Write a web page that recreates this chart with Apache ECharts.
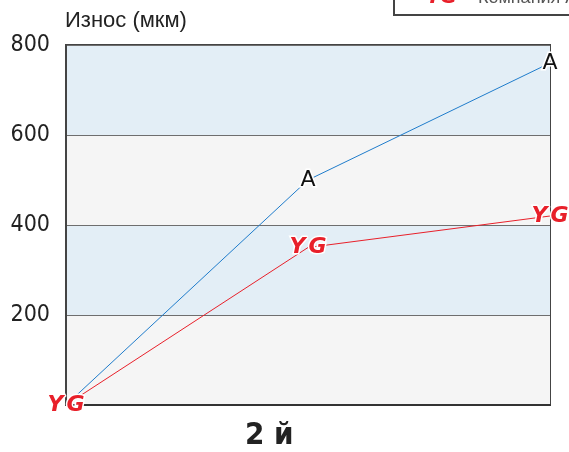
<!DOCTYPE html>
<html>
<head>
<meta charset="utf-8">
<script src="https://cdn.jsdelivr.net/npm/echarts@6/dist/echarts.min.js"></script>
<style>
  html, body { margin: 0; padding: 0; background: #fff; }
  #chart { width: 569px; height: 452px; }
</style>
</head>
<body>
<div id="chart"></div>
<script>
// Wear measurements at three inspection points
const steps = ['0', '1', '2'];
const wearA = [0, 500, 760];
const wearYG = [0, 350, 420];
const yTicks = [0, 200, 400, 600, 800];

const BLUE = '#1f7ccb';
const RED = '#e8202a';
const CONDENSED = '"DejaVu Sans Condensed", "Liberation Sans Narrow", "DejaVu Sans", sans-serif';

const chart = echarts.init(document.getElementById('chart'));

chart.setOption({
  animation: false,
  grid: {
    left: 66, right: 19, top: 45, bottom: 47,
    show: true, borderColor: '#444', borderWidth: 2, backgroundColor: 'transparent'
  },
  xAxis: {
    type: 'category',
    data: steps,
    boundaryGap: false,
    axisLine: { show: true, lineStyle: { color: '#333', width: 2 } },
    axisTick: { show: false },
    axisLabel: { show: false },
    splitLine: { show: false }
  },
  yAxis: {
    type: 'value',
    min: yTicks[0],
    max: yTicks[yTicks.length - 1],
    interval: 200,
    axisLine: { show: true, lineStyle: { color: '#444', width: 2 } },
    axisTick: { show: false },
    axisLabel: {
      margin: 16,
      color: '#222',
      fontSize: 23,
      fontFamily: CONDENSED,
      verticalAlign: 'middle',
      padding: [0, 0, 8, 0],
      formatter: v => (v === 0 ? '' : String(v))
    },
    splitLine: { show: true, lineStyle: { color: '#6e6e6e', width: 1 } },
    splitArea: { show: true, areaStyle: { color: ['#f5f5f5', '#e3eef6'] } }
  },
  series: [
    {
      name: 'A',
      type: 'line',
      data: wearA,
      symbol: 'circle',
      symbolSize: 0,
      showSymbol: true,
      lineStyle: { color: BLUE, width: 1 },
      label: {
        show: true,
        position: 'inside',
        formatter: p => (p.dataIndex === 0 ? '' : 'A'),
        color: '#111',
        fontSize: 22,
        fontFamily: '"DejaVu Sans", sans-serif',
        textBorderColor: '#fff',
        textBorderWidth: 3
      },
      z: 3
    },
    {
      name: 'YG',
      type: 'line',
      data: wearYG,
      symbol: 'circle',
      symbolSize: 0,
      showSymbol: true,
      lineStyle: { color: RED, width: 1 },
      label: {
        show: true,
        position: 'inside',
        formatter: '{y|Y}{g|G}',
        rich: {
          y: {
            color: RED, fontSize: 22, fontWeight: 900, fontStyle: 'italic',
            fontFamily: '"DejaVu Sans", sans-serif', padding: [0, 3, 0, 0],
            textBorderColor: '#fff', textBorderWidth: 3
          },
          g: {
            color: RED, fontSize: 22, fontWeight: 900, fontStyle: 'italic',
            fontFamily: '"DejaVu Sans", sans-serif',
            textBorderColor: '#fff', textBorderWidth: 3
          }
        }
      },
      z: 4
    }
  ],
  graphic: [
    {
      type: 'text', left: 65, top: 10,
      style: { text: 'Износ (мкм)', fontSize: 22, fill: '#222', fontFamily: '"Liberation Sans", Arial, sans-serif' }
    },
    {
      type: 'text', left: 245, top: 420,
      style: { text: '2 й', fontSize: 31, fontWeight: 'bold', fill: '#222', fontFamily: CONDENSED }
    },
    {
      type: 'rect', shape: { x: 394, y: -30, width: 200, height: 45 },
      style: { fill: '#fff', stroke: '#444', lineWidth: 2 }
    },
    {
      type: 'text', x: 426, y: -12,
      style: { text: 'YG', fontSize: 20, fontWeight: 900, fontStyle: 'italic', fill: RED, fontFamily: '"DejaVu Sans", sans-serif' }
    },
    {
      type: 'text', x: 478, y: -11,
      style: { text: 'Компания A', fontSize: 18, fill: '#555', fontFamily: '"Liberation Sans", Arial, sans-serif' }
    }
  ]
});
</script>
</body>
</html>
